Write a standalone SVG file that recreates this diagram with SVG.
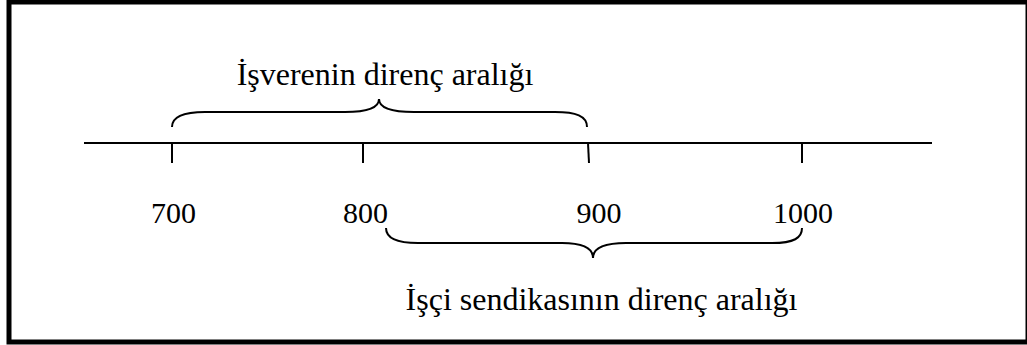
<svg xmlns="http://www.w3.org/2000/svg" width="1027" height="345" viewBox="0 0 1027 345">
<style>
.t{font-family:"Liberation Serif","Times New Roman",serif;font-size:30px;fill:#000;text-anchor:middle}
.l{fill:none;stroke:#000;stroke-width:2}
</style>
<rect x="0" y="0" width="1027" height="345" fill="#fff"/>
<rect id="frame" x="9" y="2" width="1019" height="340" fill="none" stroke="#000" stroke-width="5"/>
<g id="connectors">
<line class="l" x1="84" y1="143" x2="932" y2="143"/>
<line class="l" x1="172" y1="143" x2="172" y2="163"/>
<line class="l" x1="363" y1="143" x2="363" y2="163"/>
<line class="l" x1="588" y1="143" x2="589" y2="163"/>
<line class="l" x1="802" y1="143" x2="802" y2="163"/>
<path class="l" d="M172,127 C172,116 184,112 205,112 L345,112 C368,112 379,108 379,99 C379,108 392,112 414,112 L555,112 C576,112 587,116 587,127"/>
<path class="l" d="M386,228 C386,238 396,243 418,243 L562,243 C582,243 593,248 593,258 C593,248 604,243 626,243 L772,243 C794,243 802,238 802,228"/>
</g>
<g id="label-employer"><text class="t" x="385" y="85" font-size="32" style="font-size:32px">İşverenin direnç aralığı</text></g>
<g id="n700"><text class="t" x="173.5" y="223">700</text></g>
<g id="n800"><text class="t" x="365.5" y="223">800</text></g>
<g id="n900"><text class="t" x="599" y="223">900</text></g>
<g id="n1000"><text class="t" x="803" y="223">1000</text></g>
<g id="label-union"><text class="t" x="601.5" y="310" style="font-size:32px">İşçi sendikasının direnç aralığı</text></g>
</svg>
